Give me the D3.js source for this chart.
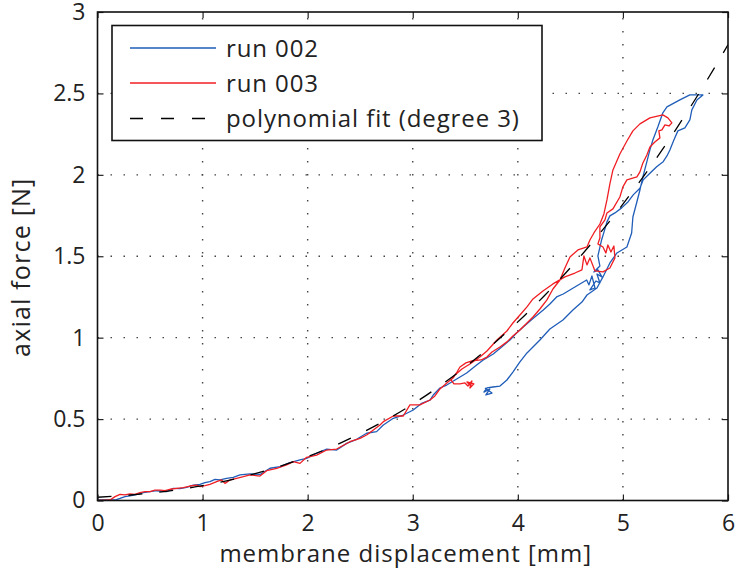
<!DOCTYPE html>
<html>
<head>
<meta charset="utf-8">
<script src="https://cdn.jsdelivr.net/npm/d3@7"></script>
<style>
  html, body { margin: 0; padding: 0; background: #fff; }
  svg { display: block; }
  text { font-family: "Open Sans", "Noto Sans", sans-serif; fill: #222; }
</style>
</head>
<body>
<svg id="chart" width="739" height="578"></svg>
<script>
// Axial force vs. membrane displacement, two runs and a cubic fit.

const xTicks = [0, 1, 2, 3, 4, 5, 6];
const yTicks = [0, 0.5, 1, 1.5, 2, 2.5, 3];
const xTickLabels = ["0", "1", "2", "3", "4", "5", "6"];
const yTickLabels = ["0", "0.5", "1", "1.5", "2", "2.5", "3"];

const seriesNames = ["run 002", "run 003", "polynomial fit (degree 3)"];
const xLabel = "membrane displacement [mm]";
const yLabel = "axial force [N]";

// run 002: [displacement mm, force N], loading then unloading
const run002 = [
  [0.000,0.000],[0.008,0.003],[0.167,0.003],[0.214,0.013],[0.262,0.024],[0.309,0.028],[0.357,0.034],
  [0.436,0.048],[0.500,0.054],[0.563,0.060],[0.658,0.054],[0.722,0.075],[0.785,0.073],[0.848,0.081],
  [0.912,0.095],[0.975,0.099],[1.023,0.110],[1.070,0.116],[1.118,0.130],[1.166,0.126],[1.229,0.136],
  [1.292,0.142],[1.356,0.157],[1.451,0.163],[1.546,0.160],[1.641,0.198],[1.737,0.208],[1.832,0.232],
  [1.927,0.249],[1.990,0.259],[2.085,0.290],[2.181,0.316],[2.276,0.310],[2.371,0.351],[2.466,0.376],
  [2.561,0.413],[2.656,0.423],[2.720,0.464],[2.815,0.505],[2.910,0.525],[3.005,0.556],[3.085,0.597],
  [3.164,0.617],[3.195,0.648],[3.259,0.691],[3.323,0.709],[3.418,0.746],[3.513,0.783],[3.608,0.832],
  [3.671,0.863],[3.766,0.900],[3.846,0.943],[3.925,0.986],[3.988,1.029],[4.051,1.066],[4.147,1.119],
  [4.242,1.170],[4.305,1.207],[4.369,1.250],[4.432,1.268],[4.527,1.305],[4.591,1.330],[4.655,1.354],
  [4.677,1.324],[4.705,1.379],[4.734,1.305],[4.686,1.293],[4.743,1.348],[4.781,1.336],[4.753,1.391],
  [4.800,1.373],[4.762,1.416],[4.724,1.403],[4.781,1.440],[4.762,1.502],[4.797,1.600],[4.829,1.668],
  [4.848,1.711],[4.876,1.748],[4.924,1.766],[4.988,1.797],[5.050,1.835],[5.098,1.877],[5.162,1.918],
  [5.193,1.969],[5.257,2.010],[5.321,2.050],[5.383,2.081],[5.419,2.116],[5.447,2.153],[5.485,2.214],
  [5.523,2.270],[5.590,2.288],[5.637,2.337],[5.656,2.399],[5.704,2.460],[5.761,2.491],
  [5.685,2.491],[5.637,2.491],[5.542,2.460],[5.419,2.417],[5.380,2.381],[5.333,2.295],[5.285,2.214],
  [5.257,2.153],[5.225,2.073],[5.190,1.987],[5.162,1.907],[5.130,1.827],[5.095,1.741],[5.083,1.643],
  [5.038,1.557],[4.943,1.520],[4.876,1.459],[4.810,1.373],[4.753,1.305],[4.658,1.262],[4.610,1.219],
  [4.524,1.170],[4.429,1.109],[4.305,1.053],[4.210,0.986],[4.144,0.943],[4.087,0.906],[4.020,0.851],
  [3.953,0.789],[3.896,0.740],[3.830,0.703],[3.763,0.697],[3.706,0.691],[3.677,0.666],[3.734,0.685],
  [3.696,0.648],[3.754,0.660],[3.715,0.679],[3.687,0.691]
];

// run 003: [displacement mm, force N], loading then unloading
const run003 = [
  [0.000,0.000],[0.119,0.003],[0.167,0.024],[0.214,0.038],[0.262,0.034],[0.309,0.040],[0.357,0.038],
  [0.404,0.048],[0.452,0.054],[0.500,0.054],[0.547,0.064],[0.595,0.064],[0.642,0.060],[0.690,0.069],
  [0.753,0.075],[0.817,0.079],[0.880,0.089],[0.944,0.095],[0.975,0.085],[1.023,0.091],[1.070,0.099],
  [1.134,0.116],[1.181,0.126],[1.213,0.105],[1.261,0.126],[1.324,0.136],[1.388,0.146],[1.451,0.157],
  [1.546,0.150],[1.610,0.183],[1.705,0.198],[1.800,0.218],[1.863,0.239],[1.927,0.228],[1.990,0.265],
  [2.085,0.279],[2.181,0.310],[2.276,0.316],[2.402,0.361],[2.498,0.382],[2.561,0.402],[2.625,0.433],
  [2.688,0.464],[2.720,0.484],[2.815,0.519],[2.910,0.519],[2.973,0.587],[3.068,0.587],[3.164,0.617],
  [3.211,0.642],[3.259,0.685],[3.335,0.728],[3.383,0.752],[3.421,0.789],[3.449,0.820],[3.506,0.845],
  [3.563,0.857],[3.649,0.863],[3.706,0.881],[3.754,0.912],[3.830,0.943],[3.896,0.974],[3.953,1.010],
  [4.020,1.047],[4.087,1.090],[4.144,1.127],[4.210,1.176],[4.277,1.232],[4.334,1.299],[4.401,1.354],
  [4.448,1.428],[4.496,1.496],[4.572,1.539],[4.658,1.557],[4.686,1.600],[4.724,1.643],[4.781,1.698],
  [4.819,1.760],[4.848,1.846],[4.876,1.944],[4.905,2.030],[4.971,2.128],[5.038,2.208],[5.095,2.270],
  [5.162,2.313],[5.257,2.350],[5.380,2.368],[5.428,2.350],[5.466,2.319],[5.438,2.300],[5.400,2.307],
  [5.371,2.276],[5.342,2.270],[5.352,2.227],[5.304,2.202],[5.257,2.171],[5.228,2.122],[5.190,2.073],
  [5.162,2.018],[5.133,1.987],[5.038,1.969],[5.000,1.926],[4.971,1.864],[4.905,1.791],[4.848,1.766],
  [4.829,1.723],[4.781,1.680],[4.781,1.612],[4.762,1.576],[4.810,1.557],[4.838,1.520],[4.857,1.569],
  [4.886,1.526],[4.914,1.563],[4.924,1.490],[4.876,1.428],[4.810,1.404],[4.734,1.410],[4.686,1.490],
  [4.658,1.447],[4.629,1.502],[4.610,1.416],[4.543,1.397],[4.448,1.373],[4.334,1.330],[4.239,1.287],
  [4.144,1.238],[4.087,1.189],[4.020,1.139],[3.953,1.090],[3.896,1.041],[3.801,0.986],[3.706,0.918],
  [3.639,0.881],[3.544,0.838],[3.468,0.808],[3.402,0.771],[3.364,0.740],[3.392,0.716],[3.449,0.716],
  [3.497,0.722],[3.525,0.703],[3.563,0.734],[3.544,0.691],[3.582,0.716],[3.516,0.728],[3.554,0.703]
];

// cubic fit, tabulated every 0.25 mm
const fitX = [0,0.25,0.5,0.75,1,1.25,1.5,1.75,2,2.25,2.5,2.75,3,3.25,3.5,3.75,4,4.25,4.5,4.75,5,5.25,5.5,5.75,6];
const fitY = [0.020,0.030,0.045,0.065,0.091,0.124,0.165,0.213,0.270,0.335,0.411,0.496,0.592,0.700,
              0.820,0.952,1.097,1.256,1.429,1.617,1.820,2.039,2.275,2.528,2.799];

const colors = ["#1f5db8", "#f01e23", "#000"];

const svg = d3.select("#chart");
const margin = { left: 97.5, top: 12, right: 11, bottom: 77.5 };
const W = 739 - margin.left - margin.right;
const H = 578 - margin.top - margin.bottom;

const x = d3.scaleLinear().domain([0, 6]).range([0, W]);
const y = d3.scaleLinear().domain([0, 3]).range([H, 0]);

const g = svg.append("g").attr("transform", `translate(${margin.left},${margin.top})`);

// dotted grid
const grid = g.append("g").attr("class", "grid");
grid.selectAll("line.gx").data(xTicks.slice(1, -1)).join("line")
  .attr("x1", d => x(d)).attr("x2", d => x(d)).attr("y1", H).attr("y2", 0);
grid.selectAll("line.gy").data(yTicks.slice(1, -1)).join("line")
  .attr("class", "gy")
  .attr("x1", 0).attr("x2", W).attr("y1", d => y(d)).attr("y2", d => y(d));
grid.selectAll("line")
  .attr("stroke", "#444").attr("stroke-width", 1.4)
  .attr("stroke-dasharray", "1.5,11.5");

// data lines
const line = d3.line().x(d => x(d[0])).y(d => y(d[1]));
g.append("clipPath").attr("id", "plotclip")
  .append("rect").attr("width", W).attr("height", H);
const plot = g.append("g").attr("clip-path", "url(#plotclip)");

plot.append("path").datum(run002).attr("d", line)
  .attr("fill", "none").attr("stroke", colors[0]).attr("stroke-width", 1.3)
  .attr("stroke-linejoin", "round");
plot.append("path").datum(run003).attr("d", line)
  .attr("fill", "none").attr("stroke", colors[1]).attr("stroke-width", 1.3)
  .attr("stroke-linejoin", "round");
const fitData = fitX.map((v, i) => [v, fitY[i]]);
plot.append("path").datum(fitData)
  .attr("d", d3.line().x(d => x(d[0])).y(d => y(d[1])).curve(d3.curveMonotoneX))
  .attr("fill", "none").attr("stroke", colors[2]).attr("stroke-width", 1.3)
  .attr("stroke-dasharray", "14,17");

// axes: ticks inside on all four sides, labels on left and bottom
const tickLen = 6;
const axisBottom = d3.axisBottom(x).tickValues(xTicks).tickFormat((d, i) => xTickLabels[i])
  .tickSizeInner(-tickLen).tickSizeOuter(0).tickPadding(14);
const axisLeft = d3.axisLeft(y).tickValues(yTicks).tickFormat((d, i) => yTickLabels[i])
  .tickSizeInner(-tickLen).tickSizeOuter(0).tickPadding(12);
const axisTop = d3.axisTop(x).tickValues(xTicks).tickFormat("").tickSizeInner(-tickLen).tickSizeOuter(0);
const axisRight = d3.axisRight(y).tickValues(yTicks).tickFormat("").tickSizeInner(-tickLen).tickSizeOuter(0);

function styleAxis(sel) {
  sel.select(".domain").remove();
  sel.selectAll(".tick line").attr("stroke", "#222").attr("stroke-width", 1.2);
  sel.selectAll(".tick text")
    .style("font-family", '"Open Sans", "Noto Sans", sans-serif')
    .style("font-size", "23px").attr("fill", "#222");
}
g.append("g").attr("transform", `translate(0,${H})`).call(axisBottom).call(styleAxis);
g.append("g").call(axisLeft).call(styleAxis);
g.append("g").call(axisTop).call(styleAxis);
g.append("g").attr("transform", `translate(${W},0)`).call(axisRight).call(styleAxis);

// axes box
g.append("rect").attr("width", W).attr("height", H)
  .attr("fill", "none").attr("stroke", "#111").attr("stroke-width", 1.6);

// axis titles
g.append("text").attr("x", W / 2 - 7).attr("y", H + 61)
  .attr("text-anchor", "middle").style("font-size", "24px")
  .style("letter-spacing", "1px").text(xLabel);
g.append("text").attr("transform", `translate(${-68},${H / 2 + 11}) rotate(-90)`)
  .attr("text-anchor", "middle").style("font-size", "25px")
  .style("letter-spacing", "1.2px").text(yLabel);

// legend
const lg = svg.append("g").attr("transform", "translate(112,25.5)");
lg.append("rect").attr("width", 430).attr("height", 115)
  .attr("fill", "#fff").attr("stroke", "#111").attr("stroke-width", 1.6);
const rowY = [22.5, 57.5, 93];
seriesNames.forEach((name, i) => {
  const ln = lg.append("line")
    .attr("x1", 18).attr("x2", 104).attr("y1", rowY[i]).attr("y2", rowY[i])
    .attr("stroke", colors[i]).attr("stroke-width", 1.3);
  if (i === 2) ln.attr("stroke-dasharray", "13,18");
  lg.append("text").attr("x", 114).attr("y", rowY[i] + 8.5)
    .style("font-size", "24px").style("letter-spacing", "0.9px").text(name);
});
</script>
</body>
</html>
